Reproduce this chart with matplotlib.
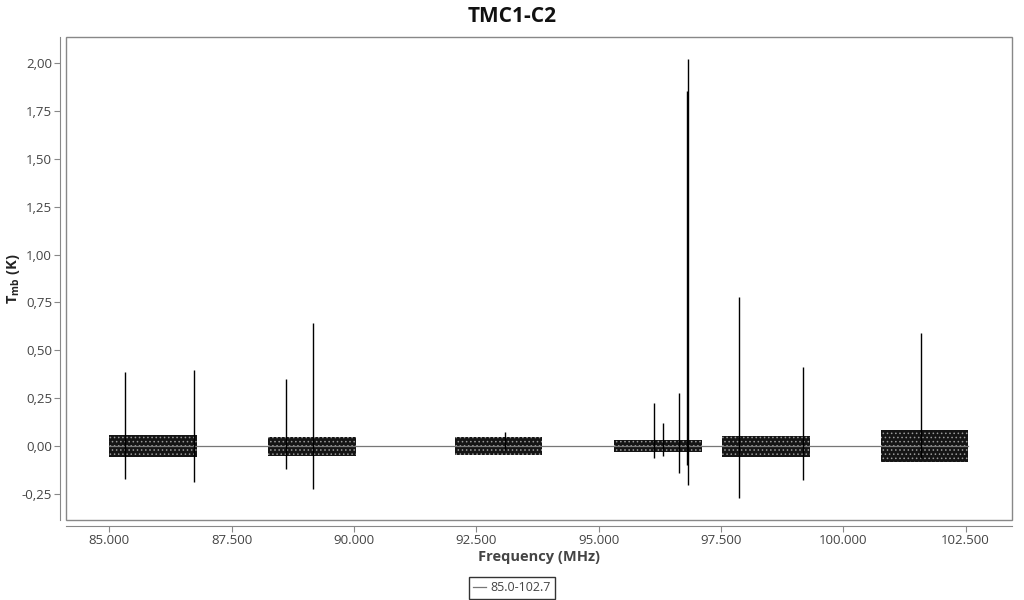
import matplotlib
matplotlib.use("Agg")
import matplotlib.pyplot as plt
from matplotlib.patches import Rectangle
from matplotlib.ticker import FuncFormatter, MultipleLocator

plt.rcParams['font.family'] = ['Open Sans', 'DejaVu Sans']
plt.rcParams['mathtext.fontset'] = 'custom'
plt.rcParams['mathtext.rm'] = 'Open Sans'
plt.rcParams['mathtext.bf'] = 'Open Sans:bold'
plt.rcParams['hatch.linewidth'] = 0.6

# observed sub-bands (MHz) and their noise envelope (K)
band_start = [85000, 88240, 92070, 95320, 97520, 100770]
band_end = [86790, 90040, 93850, 97120, 99320, 102560]
noise_hi = [0.060, 0.048, 0.045, 0.030, 0.055, 0.085]
noise_lo = [-0.058, -0.050, -0.045, -0.032, -0.057, -0.085]

# strong lines: frequency (MHz), peak (K), dip (K)
line_freq = [85323, 86737, 88606, 89157, 93090, 96140, 96324, 96651, 96835, 96815, 97878, 99187, 101599]
line_peak = [0.385, 0.395, 0.348, 0.642, 0.075, 0.223, 0.118, 0.275, 2.019, 1.854, 0.780, 0.414, 0.588]
line_dip = [-0.172, -0.186, -0.122, -0.226, -0.02, -0.06, -0.05, -0.143, -0.204, -0.10, -0.273, -0.178, -0.06]

fig = plt.figure(figsize=(10.24, 6), dpi=100)
ax = fig.add_axes([66 / 1024, 80 / 600, 946 / 1024, 483 / 600])

# baseline trace across the gaps
ax.plot([band_start[0], band_end[-1]], [0, 0], color='#777777', lw=0.9, label='85.0-102.7')

for s, e, hi, lo in zip(band_start, band_end, noise_hi, noise_lo):
    ax.fill_between([s, e], [lo, lo], [hi, hi], facecolor='#151515', edgecolor='#9a9a9a',
                    hatch='....', lw=0)

ax.vlines(line_freq, line_dip, line_peak, color='black', lw=1.0)

ax.set_xlim(84115, 103450)
ax.set_ylim(-0.386, 2.136)
ax.xaxis.set_major_locator(MultipleLocator(2500))
ax.yaxis.set_major_locator(MultipleLocator(0.25))
ax.xaxis.set_major_formatter(FuncFormatter(lambda v, p: f"{v:,.0f}".replace(',', '.')))
ax.yaxis.set_major_formatter(FuncFormatter(lambda v, p: f"{v:.2f}".replace('.', ',')))

for side in ['top', 'right']:
    ax.spines[side].set_visible(False)
for side in ['left', 'bottom']:
    ax.spines[side].set_position(('outward', 4))
    ax.spines[side].set_color('#888888')
ax.add_patch(Rectangle((0, 0), 1, 1, transform=ax.transAxes, fill=False,
                       edgecolor='#888888', lw=1.0, clip_on=False))
ax.tick_params(colors='#888888', labelcolor='#444444', labelsize=9.5, length=4, pad=2)

fig.suptitle('TMC1-C2', fontsize=15, fontweight='bold', color='#111111', x=0.5, y=0.99)
ax.set_xlabel('Frequency (MHz)', fontsize=10.5, fontweight='bold', color='#444444', labelpad=2)
ax.set_ylabel(r'$\mathbf{T_{mb}}$ (K)', fontsize=10.5, fontweight='bold', color='#222222')
ax.yaxis.set_label_coords(-0.046, 0.5)

leg = ax.legend(loc='upper center', bbox_to_anchor=(0.4715, -0.105), frameon=True, fancybox=False,
                fontsize=9, handlelength=1.0, handletextpad=0.4, borderpad=0.35)
leg.get_frame().set_edgecolor('black')
leg.get_frame().set_linewidth(1.0)
for t in leg.get_texts():
    t.set_color('#444444')

fig.savefig('out.png', dpi=100)
